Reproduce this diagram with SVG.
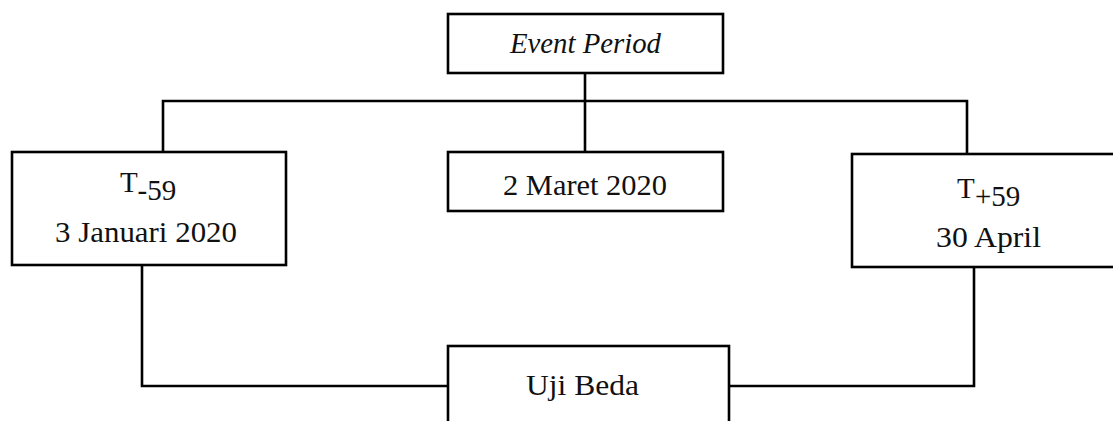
<svg xmlns="http://www.w3.org/2000/svg" width="1113" height="421" viewBox="0 0 1113 421">
<style>
  .box { fill: #ffffff; stroke: #000000; stroke-width: 2.6; }
  .conn { fill: none; stroke: #000000; stroke-width: 2.6; }
  .lbl { font-family: "Liberation Serif", "Times New Roman", serif; font-size: 29px; fill: #111111; }
  .mid { text-anchor: middle; }
</style>
<rect width="1113" height="421" fill="#ffffff"/>
<g id="connectors">
  <path class="conn" d="M585,73 V101"/>
  <path class="conn" d="M163,152 V101 H967 V154"/>
  <path class="conn" d="M585,101 V152"/>
  <path class="conn" d="M142,265 V386 H448"/>
  <path class="conn" d="M974,267 V386 H729"/>
</g>
<g id="event-period">
  <rect class="box" x="448" y="14" width="275" height="59"/>
  <text class="lbl mid" x="585.5" y="53" font-style="italic" textLength="151" lengthAdjust="spacingAndGlyphs">Event Period</text>
</g>
<g id="t-minus-59">
  <rect class="box" x="12" y="152" width="274" height="113"/>
  <text class="lbl"><tspan x="120" y="192">T</tspan><tspan x="137.5" y="200">-59</tspan></text>
  <text class="lbl mid" x="146" y="242" textLength="182" lengthAdjust="spacingAndGlyphs">3 Januari 2020</text>
</g>
<g id="event-date">
  <rect class="box" x="448" y="152" width="275" height="59"/>
  <text class="lbl mid" x="585" y="195" font-size="30" textLength="164" lengthAdjust="spacingAndGlyphs">2 Maret 2020</text>
</g>
<g id="t-plus-59">
  <rect class="box" x="852" y="154" width="280" height="113"/>
  <text class="lbl"><tspan x="957" y="198">T</tspan><tspan x="975" y="206">+59</tspan></text>
  <text class="lbl mid" x="988.5" y="247" textLength="105" lengthAdjust="spacingAndGlyphs">30 April</text>
</g>
<g id="uji-beda">
  <rect class="box" x="448" y="346" width="281" height="100"/>
  <text class="lbl mid" x="582.5" y="395" textLength="113" lengthAdjust="spacingAndGlyphs">Uji Beda</text>
</g>
</svg>
